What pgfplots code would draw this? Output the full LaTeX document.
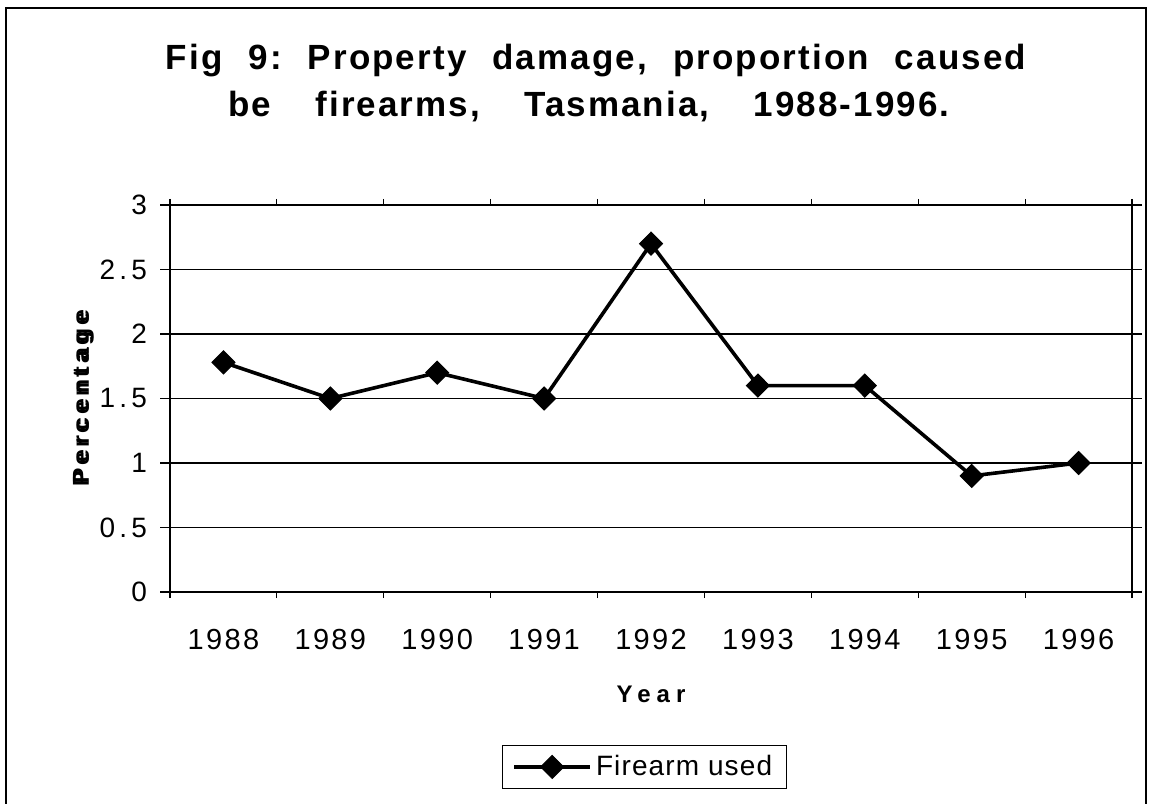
\documentclass[border=0pt]{standalone}
\usepackage{fontspec}
\setmainfont{Liberation Sans}
\usepackage{pgfplots}
\pgfplotsset{compat=1.18}

\begin{document}
\begin{tikzpicture}[x=0.5bp,y=0.5bp]
% page: 1153 x 803 px, 1px = 0.5bp
\useasboundingbox (0,0) rectangle (1153,803);
\begin{scope}
\clip (0,0) rectangle (1153,803);
\draw[line width=0.8bp] (6,-10) rectangle (1146,795);
\end{scope}

\node[font=\fontsize{17.5bp}{20bp}\selectfont\bfseries\addfontfeature{LetterSpace=6}, anchor=base]
  at (596,733) {Fig\hspace{13bp}9:\hspace{13bp}Property\hspace{13bp}damage,\hspace{13bp}proportion\hspace{13bp}caused};
\node[font=\fontsize{17.5bp}{20bp}\selectfont\bfseries\addfontfeature{LetterSpace=6}, anchor=base]
  at (589,686) {be\hspace{22bp}firearms,\hspace{22bp}Tasmania,\hspace{22bp}1988-1996.};

\coordinate (SW) at (170,211);
\begin{axis}[
    at={(SW)}, anchor=south west,
    scale only axis,
    width=481bp, height=193.5bp,
    xmin=-0.5, xmax=8.5, ymin=0, ymax=3,
    xtick={0,...,8},
    xticklabels={1988,1989,1990,1991,1992,1993,1994,1995,1996},
    minor xtick={-0.5,0.5,...,8.5},
    ytick={0,0.5,1,1.5,2,2.5,3},
    yticklabels={0,0.5,1,1.5,2,2.5,3},
    /pgf/number format/assume math mode=true,
    ymajorgrids,
    major grid style={black, line width=0.65bp},
    axis line style={line width=1.3bp},
    major x tick style={draw=none},
    minor x tick style={black, line width=0.6bp},
    major y tick style={black, line width=0.6bp},
    tick align=outside,
    major tick length=5bp, minor tick length=3bp,
    every x tick label/.style={font=\fontsize{14.5bp}{16bp}\selectfont\addfontfeature{LetterSpace=8}, yshift=-10bp},
    every y tick label/.style={font=\fontsize{14bp}{16bp}\selectfont\addfontfeature{LetterSpace=15}, xshift=-3bp},
    xlabel={Year},
    xlabel style={font=\fontsize{12bp}{14bp}\selectfont\bfseries\addfontfeature{LetterSpace=25}, at={(0.5,-0.265)}, anchor=center},
    ylabel={\rlap{Percentage}\kern1.5bp Percentage},
    ylabel style={font=\fontsize{11.5bp}{13bp}\selectfont\bfseries\addfontfeature{LetterSpace=24}, at={(-0.09,0.5)}, anchor=center, rotate=0},
    legend style={at={(0.493,-0.452)}, anchor=center, draw=black, line width=0.6bp,
        font=\fontsize{14bp}{16bp}\selectfont\addfontfeature{LetterSpace=4}, inner xsep=5bp, inner ysep=3bp},
    legend image code/.code={\draw[mark repeat=2,mark phase=2,#1] plot coordinates {(0bp,0bp)(19bp,0bp)(38bp,0bp)};},
]
\addplot[black, line width=1.8bp, mark=diamond*, mark size=5.75bp,
    mark options={xscale=1.33, line width=0.5bp}]
  coordinates {(0,1.78) (1,1.5) (2,1.7) (3,1.5) (4,2.7) (5,1.6) (6,1.6) (7,0.9) (8,1.0)};
\addlegendentry{Firearm used}
\end{axis}
\end{tikzpicture}
\end{document}
